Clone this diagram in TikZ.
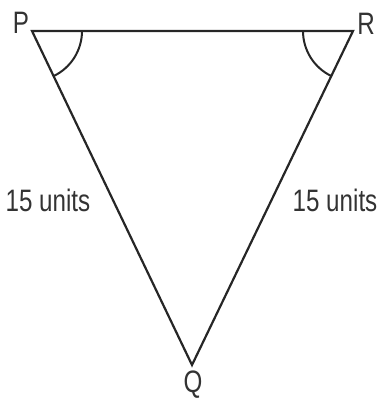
\documentclass[tikz,border=0pt]{standalone}
\usepackage{fontspec}
\setmainfont{Liberation Sans}[FakeStretch=0.78]
\usepackage{tikz}
\usetikzlibrary{angles,calc}

\begin{document}
\begin{tikzpicture}[x=1pt, y=1pt,
    every node/.style={font=\fontsize{31}{33}\selectfont, text=black!80, inner sep=0pt},
    side/.style={line width=2.2pt, black!85, line join=miter},
    anglemark/.style={draw, line width=2pt, black!85, angle radius=50pt},
]
\useasboundingbox (0,0) rectangle (380,399);

% vertices
\coordinate (P) at (32,368);
\coordinate (R) at (353,368);
\coordinate (Q) at (192,34);

\draw[side] (P) -- (R) -- (Q) -- cycle;

% equal angles
\pic[anglemark] {angle=Q--P--R};
\pic[anglemark] {angle=P--R--Q};

% labels
\node (lP) at (21,376) {P};
\node (lR) at (366,375) {R};
\node (lQ) at (193,14) {Q};
\node (lPQ) at (48,199) {15 units};
\node (lRQ) at (335,199) {15 units};

\end{tikzpicture}
\end{document}
